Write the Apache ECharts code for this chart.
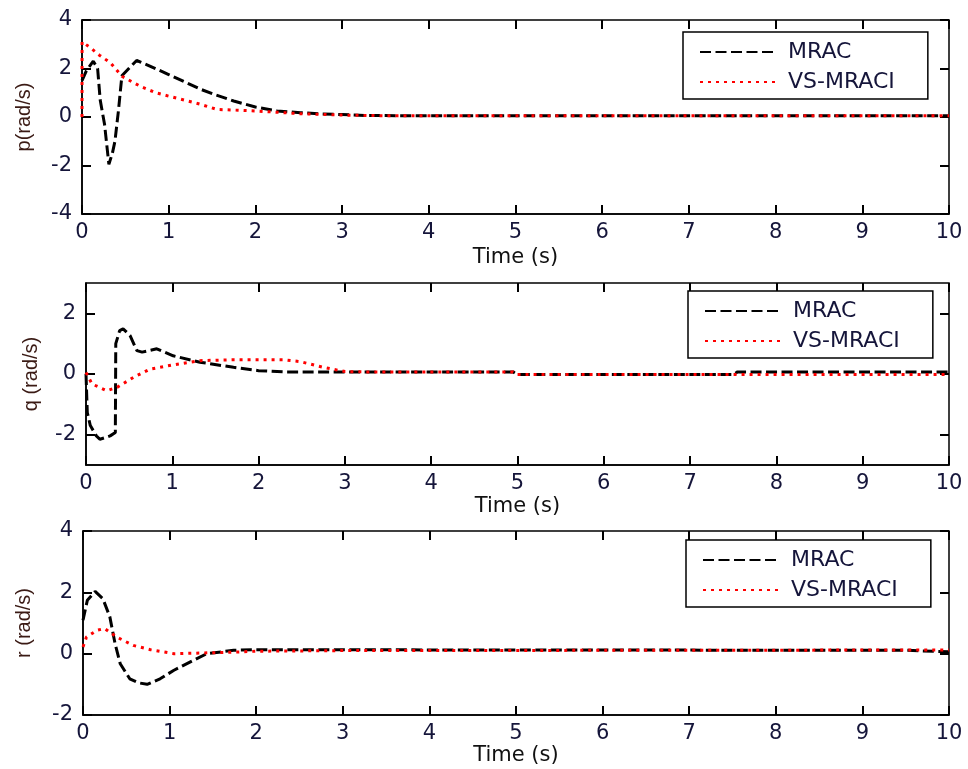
<!DOCTYPE html>
<html>
<head>
<meta charset="utf-8">
<title>p q r responses</title>
<script src="https://cdn.jsdelivr.net/npm/echarts@6/dist/echarts.min.js"></script>
<style>
  html, body { margin: 0; padding: 0; background: #fff; }
  #chart { width: 968px; height: 769px; }
</style>
</head>
<body>
<div id="chart"></div>
<script>
// time (s) and values
var pMracT  = [0, 0.05, 0.13, 0.18, 0.21, 0.26, 0.31, 0.35, 0.38, 0.42, 0.46, 0.54, 0.63, 0.75, 0.87, 1.0, 1.2, 1.37, 1.55, 1.75, 2.0, 2.25, 2.52, 2.75, 3.0, 3.3, 4, 6, 8, 10];
var pMrac   = [1.5, 1.9, 2.3, 2.0, 0.7, -0.3, -1.95, -1.5, -1.0, 0.25, 1.7, 2.0, 2.33, 2.15, 1.96, 1.75, 1.42, 1.14, 0.9, 0.66, 0.41, 0.25, 0.18, 0.13, 0.1, 0.06, 0.05, 0.05, 0.05, 0.05];
var pVsT    = [0, 0.001, 0.1, 0.2, 0.33, 0.46, 0.67, 0.85, 1.0, 1.2, 1.37, 1.56, 1.8, 2.0, 2.5, 3.0, 3.5, 10];
var pVs     = [0, 3.1, 2.85, 2.55, 2.23, 1.68, 1.27, 1.0, 0.86, 0.68, 0.52, 0.31, 0.28, 0.25, 0.14, 0.08, 0.05, 0.05];

var qMracT  = [0, 0.015, 0.05, 0.12, 0.16, 0.22, 0.28, 0.34, 0.345, 0.39, 0.43, 0.51, 0.59, 0.65, 0.82, 1.01, 1.32, 1.71, 2.0, 2.29, 3.0, 4.95, 5.0, 7.5, 7.55, 10];
var qMrac   = [0, -1.27, -1.7, -2.04, -2.15, -2.1, -2.04, -1.93, 1.0, 1.43, 1.49, 1.27, 0.77, 0.72, 0.83, 0.6, 0.39, 0.22, 0.11, 0.07, 0.07, 0.07, -0.02, -0.02, 0.07, 0.07];
var qVsT    = [0, 0.07, 0.24, 0.36, 0.55, 0.74, 1.01, 1.32, 1.71, 2.29, 2.48, 2.75, 3.0, 3.2, 4.95, 5.0, 10];
var qVs     = [0.05, -0.33, -0.55, -0.44, -0.11, 0.16, 0.3, 0.44, 0.47, 0.47, 0.41, 0.22, 0.08, 0.07, 0.07, -0.02, -0.02];

var rMracT  = [0, 0.05, 0.14, 0.23, 0.31, 0.37, 0.43, 0.54, 0.64, 0.74, 0.89, 1.05, 1.24, 1.43, 1.74, 2.0, 5.0, 9.5, 10];
var rMrac   = [1.09, 1.74, 2.03, 1.79, 1.2, 0.33, -0.33, -0.82, -0.95, -1.0, -0.82, -0.54, -0.27, 0.0, 0.11, 0.13, 0.12, 0.11, 0.06];
var rVsT    = [0, 0.04, 0.16, 0.25, 0.39, 0.58, 0.78, 1.05, 1.36, 1.74, 2.0, 3.0, 10];
var rVs     = [0.22, 0.54, 0.76, 0.82, 0.54, 0.27, 0.13, 0.0, 0.02, 0.05, 0.08, 0.1, 0.12];

var seriesNames = ['MRAC', 'VS-MRACI'];
var yNames = ['p(rad/s)', 'q (rad/s)', 'r (rad/s)'];
var yMins = [-4, -3, -2];
var yMaxs = [4, 3, 4];
var yTicks = [[-4, -2, 0, 2, 4], [-2, 0, 2], [-2, 0, 2, 4]];

function pairs(t, v) {
    var out = [];
    for (var i = 0; i < t.length; i++) out.push([t[i], v[i]]);
    return out;
}

var font = 'DejaVu Sans';
var grids = [
    {left: 82, top: 20, width: 867, height: 194},
    {left: 86, top: 283, width: 863, height: 182},
    {left: 83, top: 531, width: 866, height: 184}
];
var legendPos = [
    {left: 683, top: 32},
    {left: 688, top: 291},
    {left: 686, top: 540}
];
var yNameGap = [48, 45, 49];
var xNameGap = [33, 31, 29];

var xAxes = [], yAxes = [], legends = [], series = [];
var data = [
    [pairs(pMracT, pMrac), pairs(pVsT, pVs)],
    [pairs(qMracT, qMrac), pairs(qVsT, qVs)],
    [pairs(rMracT, rMrac), pairs(rVsT, rVs)]
];

function tick() {
    return {show: true, inside: true, length: 9, lineStyle: {color: '#000', width: 2}};
}

function yAxisBase(g, pos) {
    var ax = {
        type: 'value', gridIndex: g, position: pos, min: yMins[g], max: yMaxs[g],
        axisTick: tick(),
        splitLine: {show: false}
    };
    if (g === 1) {
        // -3..3 range, but ticks only at -2, 0, 2
        ax.axisTick.customValues = yTicks[g];
        ax.axisLabel = {customValues: yTicks[g]};
    } else {
        ax.interval = 2;
        ax.axisLabel = {};
    }
    return ax;
}

for (var g = 0; g < 3; g++) {
    grids[g].show = true;
    grids[g].borderColor = '#000';
    grids[g].borderWidth = 1.5;

    xAxes.push({
        type: 'value', gridIndex: g, min: 0, max: 10, interval: 1,
        name: 'Time (s)', nameLocation: 'middle', nameGap: xNameGap[g],
        nameTextStyle: {fontFamily: font, fontSize: 21, color: '#111'},
        axisLine: {onZero: false, lineStyle: {color: '#000', width: 1.5}},
        axisTick: tick(),
        axisLabel: {fontFamily: font, fontSize: 21, color: '#15153a', margin: 8},
        splitLine: {show: false}
    });
    var ya = yAxisBase(g, 'left');
    ya.name = yNames[g];
    ya.nameLocation = 'middle';
    ya.nameGap = yNameGap[g];
    ya.nameTextStyle = {fontFamily: 'Liberation Sans', fontSize: 20, color: '#3a1a14'};
    ya.axisLine = {onZero: false, lineStyle: {color: '#000', width: 1.5}};
    ya.axisLabel.fontFamily = font;
    ya.axisLabel.fontSize = 21;
    ya.axisLabel.color = '#15153a';
    ya.axisLabel.margin = 10;
    yAxes.push(ya);

    legends.push({
        left: legendPos[g].left, top: legendPos[g].top,
        orient: 'vertical',
        data: seriesNames,
        selectedMode: false,
        backgroundColor: '#fff',
        borderColor: '#000', borderWidth: 1.5, borderRadius: 0,
        padding: [9, 33, 6, 16],
        itemWidth: 75, itemHeight: 20, itemGap: 8,
        itemStyle: {opacity: 0},
        textStyle: {fontFamily: font, fontSize: 22, color: '#15153a', padding: [0, 0, 0, 8]}
    });
}
// mirror axes on top and right for the boxed look
for (var g2 = 0; g2 < 3; g2++) {
    xAxes.push({
        type: 'value', gridIndex: g2, position: 'top', min: 0, max: 10, interval: 1,
        axisLine: {show: false, onZero: false},
        axisTick: tick(),
        axisLabel: {show: false}, splitLine: {show: false}
    });
    var yr = yAxisBase(g2, 'right');
    yr.axisLine = {show: false, onZero: false};
    yr.axisLabel.show = false;
    yAxes.push(yr);
}

for (var k = 0; k < 3; k++) {
    series.push({
        name: 'MRAC', type: 'line', xAxisIndex: k, yAxisIndex: k,
        data: data[k][0], symbol: 'none', smooth: false,
        lineStyle: {color: '#000', width: 3, type: [11, 4.5]},
        itemStyle: {color: '#000'}
    });
    series.push({
        name: 'VS-MRACI', type: 'line', xAxisIndex: k, yAxisIndex: k,
        data: data[k][1], symbol: 'none', smooth: false,
        lineStyle: {color: '#ff0000', width: 3, type: [3, 5]},
        itemStyle: {color: '#ff0000'}
    });
}

var myChart = echarts.init(document.getElementById('chart'), null, {renderer: 'canvas'});
myChart.setOption({
    animation: false,
    backgroundColor: '#fff',
    grid: grids,
    xAxis: xAxes,
    yAxis: yAxes,
    legend: legends,
    series: series
});
</script>
</body>
</html>
